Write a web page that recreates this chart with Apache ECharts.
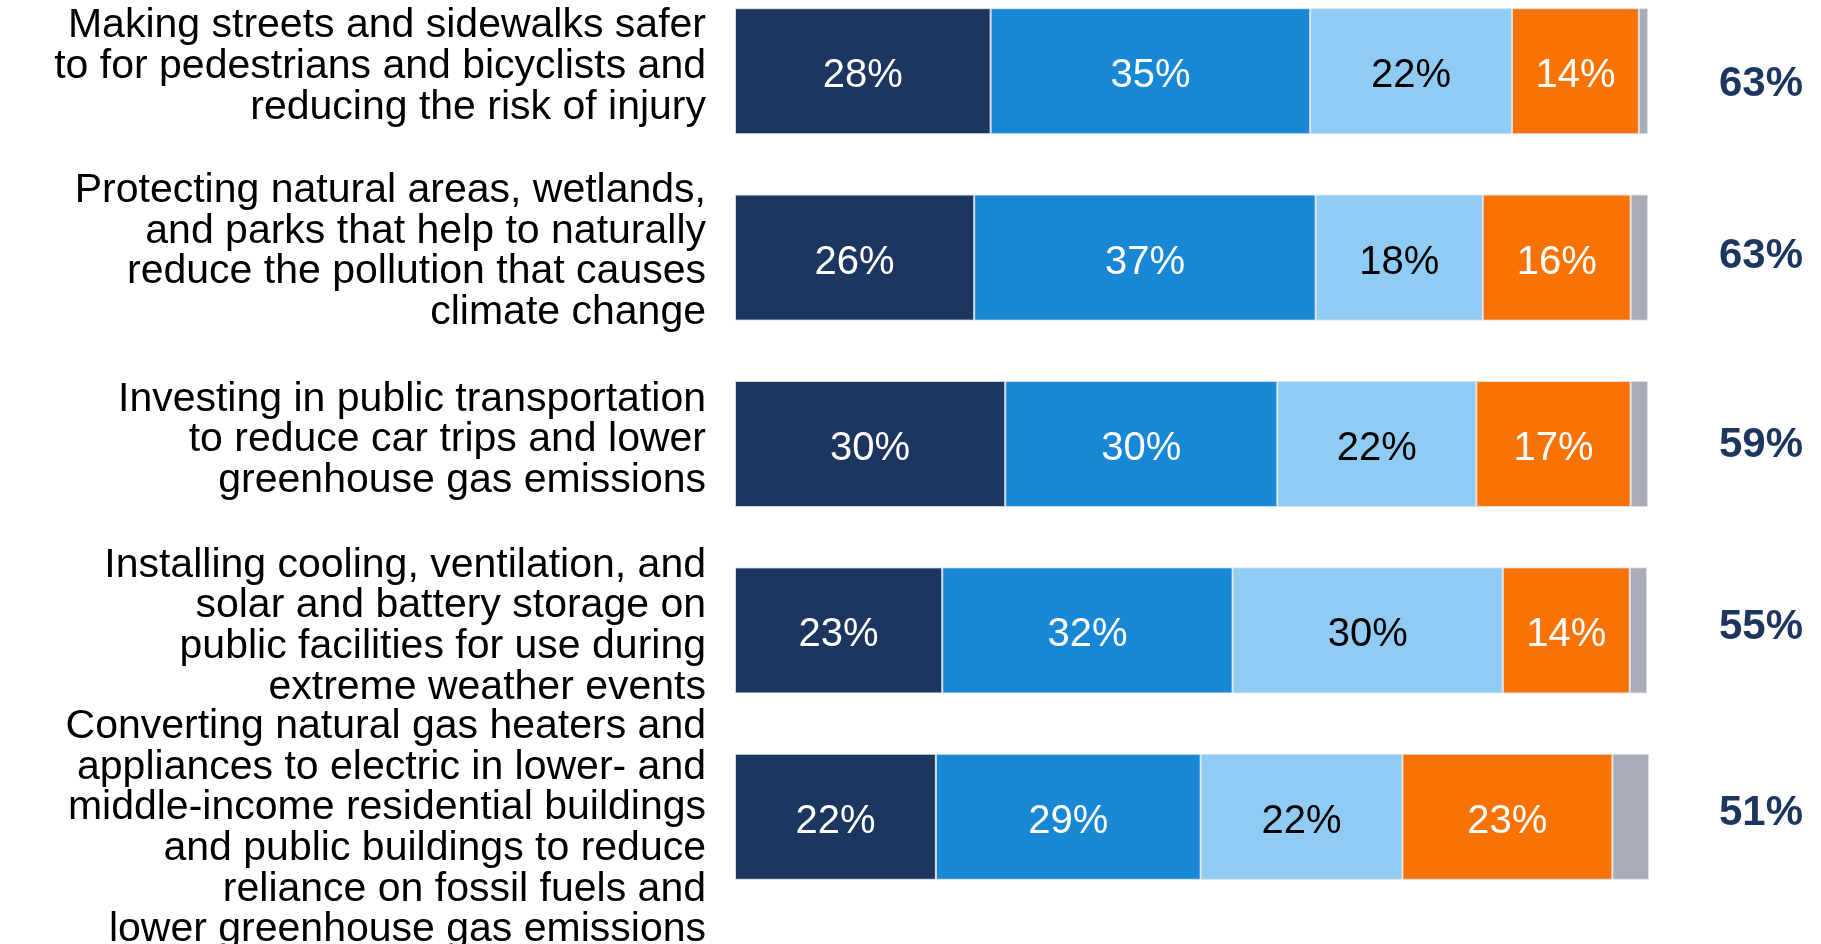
<!DOCTYPE html>
<html>
<head>
<meta charset="utf-8">
<script src="https://cdn.jsdelivr.net/npm/echarts@6/dist/echarts.min.js"></script>
<style>
html,body{margin:0;padding:0;background:#fff;}
#chart{width:1821px;height:944px;}
</style>
</head>
<body>
<div id="chart"></div>
<script>
var categories = [
  "Making streets and sidewalks safer\nto for pedestrians and bicyclists and\nreducing the risk of injury",
  "Protecting natural areas, wetlands,\nand parks that help to naturally\nreduce the pollution that causes\nclimate change",
  "Investing in public transportation\nto reduce car trips and lower\ngreenhouse gas emissions",
  "Installing cooling, ventilation, and\nsolar and battery storage on\npublic facilities for use during\nextreme weather events",
  "Converting natural gas heaters and\nappliances to electric in lower- and\nmiddle-income residential buildings\nand public buildings to reduce\nreliance on fossil fuels and\nlower greenhouse gas emissions"
];
var seriesA = [28.0, 26.2, 29.6, 22.7, 22.0];
var seriesB = [35.0, 37.4, 29.8, 31.8, 29.0];
var seriesC = [22.1, 18.3, 21.8, 29.6, 22.1];
var seriesD = [13.9, 16.2, 16.9, 13.9, 23.0];
var seriesE = [1.0, 1.9, 1.9, 1.9, 4.0];
var totals = ["63%", "63%", "59%", "55%", "51%"];
// vertical nudges of label blocks (styling only): positive = up, negative = down
var labelNudge = [9, 12, 8, 8, -23];
var totalNudge = [-7, 14, 0, 0, -9];

var FONT = "'Liberation Sans', Arial, sans-serif";
var colors = ['#1c365f', '#1787d6', '#90cbf3', '#f97304', '#a9abb7'];
var labelColors = ['#ffffff', '#ffffff', '#000000', '#ffffff', null];
var allSeries = [seriesA, seriesB, seriesC, seriesD, seriesE];

var chart = echarts.init(document.getElementById('chart'));
var series = allSeries.map(function (d, i) {
  return {
    type: 'bar',
    stack: 'total',
    xAxisIndex: 0,
    yAxisIndex: 0,
    barWidth: 126,
    clip: false,
    data: d,
    itemStyle: { color: colors[i], borderColor: 'rgba(220,226,234,0.9)', borderWidth: 1 },
    label: labelColors[i] ? {
      show: true,
      position: 'inside',
      offset: [0, 5],
      color: labelColors[i],
      fontFamily: FONT,
      fontSize: 40,
      formatter: function (p) { return Math.round(p.value) + '%'; }
    } : { show: false },
    emphasis: { disabled: true },
    animation: false
  };
});

function makeRich(nudges) {
  var r = {};
  nudges.forEach(function (n, i) {
    r['s' + i] = { lineHeight: Math.abs(n), fontSize: 1, height: Math.abs(n) };
  });
  return r;
}
function makeFormatter(nudges) {
  return function (v, idx) {
    var n = nudges[idx];
    if (n > 0) return v + '\n{s' + idx + '| }';
    if (n < 0) return '{s' + idx + '| }\n' + v;
    return v;
  };
}

chart.setOption({
  animation: false,
  grid: [
    { left: 735, right: 173, top: -22, bottom: 34, containLabel: false, outerBoundsMode: 'none' },
    { left: 1761, right: 20, top: -10, bottom: 44, containLabel: false, outerBoundsMode: 'none' }
  ],
  xAxis: [
    { gridIndex: 0, type: 'value', min: 0, max: 100, show: false },
    { gridIndex: 1, type: 'value', min: 0, max: 1, show: false }
  ],
  yAxis: [
    {
      gridIndex: 0,
      type: 'category',
      inverse: true,
      data: categories,
      axisLine: { show: false },
      axisTick: { show: false },
      splitLine: { show: false },
      axisLabel: {
        interval: 0,
        hideOverlap: false,
        margin: 29,
        fontFamily: FONT,
        fontSize: 41,
        lineHeight: 40.6,
        color: '#000000',
        align: 'right',
        rich: makeRich(labelNudge),
        formatter: makeFormatter(labelNudge)
      }
    },
    {
      gridIndex: 1,
      type: 'category',
      inverse: true,
      position: 'left',
      data: totals,
      axisLine: { show: false },
      axisTick: { show: false },
      splitLine: { show: false },
      axisLabel: {
        interval: 0,
        margin: 0,
        align: 'center',
        fontFamily: FONT,
        fontSize: 42,
        lineHeight: 48,
        fontWeight: 'bold',
        color: '#1c365f',
        rich: makeRich(totalNudge),
        formatter: makeFormatter(totalNudge)
      }
    }
  ],
  series: series
});
</script>
</body>
</html>
